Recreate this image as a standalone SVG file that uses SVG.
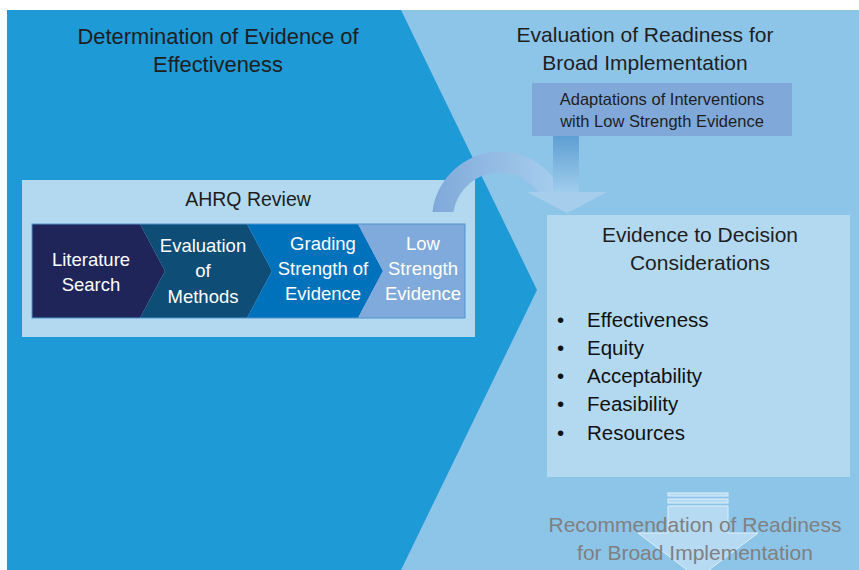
<svg xmlns="http://www.w3.org/2000/svg" width="859" height="570" viewBox="0 0 859 570">
<defs>
<linearGradient id="gCurve" x1="0" y1="0" x2="1" y2="0">
<stop offset="0" stop-color="#80A9DA"/>
<stop offset="1" stop-color="#A8CFEE"/>
</linearGradient>
<linearGradient id="gShaft" x1="0" y1="0" x2="0" y2="1">
<stop offset="0" stop-color="#5F9FD3"/>
<stop offset="1" stop-color="#A0CDEC"/>
</linearGradient>
</defs>
<style>
text{font-family:"Liberation Sans",Arial,sans-serif;}
.title{font-size:21px;fill:#1E1E1E;text-anchor:middle;}
.chev{font-size:18.5px;fill:#FFFFFF;text-anchor:middle;}
.box{fill:#B3D9F0;}
.item{font-size:20.5px;fill:#111;}
</style>
<rect x="0" y="0" width="859" height="570" fill="#FFFFFF"/>
<rect x="7" y="10" width="852" height="560" fill="#8DC5E9"/>
<polygon points="7,10 401,10 537,290 401,570 7,570" fill="#1E9AD6"/>

<g id="title-left">
<text class="title" x="218" y="44" font-size="21.9" style="font-size:21.9px">Determination of Evidence of</text>
<text class="title" x="218" y="72" style="font-size:21.9px">Effectiveness</text>
</g>
<g id="title-right">
<text class="title" x="645" y="42">Evaluation of Readiness for</text>
<text class="title" x="645" y="70">Broad Implementation</text>
</g>

<g id="ahrq-review">
<rect class="box" x="22" y="180" width="453" height="157"/>
<text x="248" y="206" font-size="19.5" fill="#1E1E1E" text-anchor="middle">AHRQ Review</text>
</g>

<g id="connectors">
<path d="M432.4,212 A68,68 0 0 1 562,192 L538,192 A47,47 0 0 0 453.5,212 Z" fill="url(#gCurve)"/>
<rect x="553" y="136" width="26" height="57" fill="url(#gShaft)"/>
<polygon points="527,192 607,192 567,213" fill="#A6CEEC"/>
</g>

<g id="chevron-row">
<g id="literature-search">
<polygon points="32,224 140,224 165,271 140,318 32,318" fill="#1F2559"/>
<text class="chev" x="91" y="266">Literature</text>
<text class="chev" x="91" y="291">Search</text>
</g>
<g id="evaluation-of-methods">
<polygon points="140,224 247,224 272,271 247,318 140,318 165,271" fill="#0D4D76"/>
<text class="chev" x="203" y="252">Evaluation</text>
<text class="chev" x="203" y="277">of</text>
<text class="chev" x="203" y="303">Methods</text>
</g>
<g id="grading-strength">
<polygon points="247,224 358,224 383,271 358,318 247,318 272,271" fill="#0072BC"/>
<text class="chev" x="323" y="250">Grading</text>
<text class="chev" x="323" y="275">Strength of</text>
<text class="chev" x="323" y="300">Evidence</text>
</g>
<g id="low-strength-evidence">
<polygon points="358,224 465,224 465,318 358,318 383,271" fill="#80AADB"/>
<text class="chev" x="423" y="250">Low</text>
<text class="chev" x="423" y="275">Strength</text>
<text class="chev" x="423" y="300">Evidence</text>
</g>
<rect x="32" y="224" width="433" height="94" fill="none" stroke="#4F95CB" stroke-width="1"/>
</g>

<g id="adaptations">
<rect x="532" y="83" width="260" height="53" fill="#80A9DA"/>
<text x="662" y="105" font-size="16.5" fill="#1E1E1E" text-anchor="middle">Adaptations of Interventions</text>
<text x="662" y="127" font-size="16.5" fill="#1E1E1E" text-anchor="middle">with Low Strength Evidence</text>
</g>

<g id="evidence-to-decision">
<rect class="box" x="547" y="215" width="303" height="262"/>
<text class="title" x="700" y="242">Evidence to Decision</text>
<text class="title" x="700" y="270">Considerations</text>
<text class="item" x="557" y="327">•</text><text class="item" x="587" y="327">Effectiveness</text>
<text class="item" x="557" y="355">•</text><text class="item" x="587" y="355">Equity</text>
<text class="item" x="557" y="383">•</text><text class="item" x="587" y="383">Acceptability</text>
<text class="item" x="557" y="411">•</text><text class="item" x="587" y="411">Feasibility</text>
<text class="item" x="557" y="440">•</text><text class="item" x="587" y="440">Resources</text>
</g>

<g id="recommendation">
<rect x="668" y="493" width="60" height="3" fill="#B5DAF2" stroke="#DDEFFA" stroke-width="1"/>
<rect x="668" y="499" width="60" height="4" fill="#B5DAF2" stroke="#DDEFFA" stroke-width="1"/>
<path d="M668,506 H728 V533 H758 L698,578 L638,533 H668 Z" fill="#B5DAF2" stroke="#DDEFFA" stroke-width="1"/>
<text x="695" y="532" font-size="21" fill="#808080" text-anchor="middle">Recommendation of Readiness</text>
<text x="695" y="560" font-size="21" fill="#808080" text-anchor="middle">for Broad Implementation</text>
</g>
</svg>
